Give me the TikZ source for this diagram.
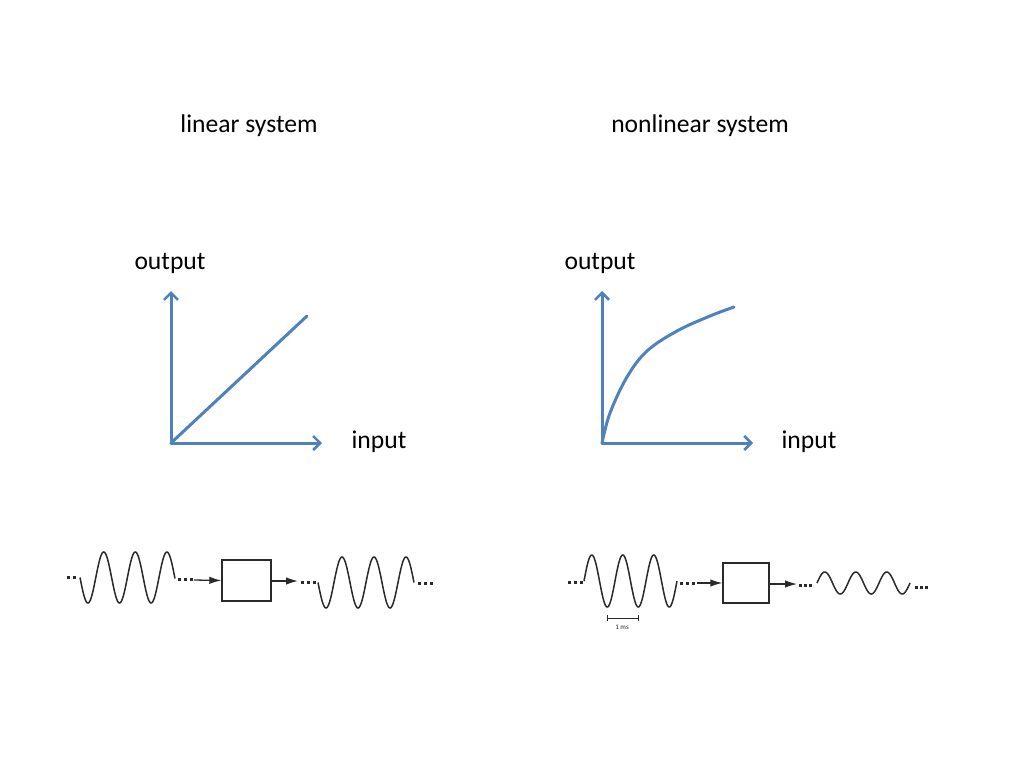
\documentclass[tikz,border=0pt]{standalone}
\usepackage{fontspec}
\setmainfont{Carlito}
\usetikzlibrary{arrows.meta}
\definecolor{axisblue}{HTML}{4F81BD}
\definecolor{ink}{HTML}{2A2A2A}
\begin{document}
\begin{tikzpicture}[x=1pt,y=-1pt,
  axis/.style={draw=axisblue,line width=3pt,line cap=round,-{Straight Barb[length=7pt,width=14pt,line width=2.6pt]}},
  curve/.style={draw=axisblue,line width=3pt,line cap=round},
  lbl/.style={font=\fontsize{25.6}{30}\selectfont,text=black,inner sep=0pt},
  wave/.style={draw=ink,line width=1.5pt},
  sysbox/.style={draw=ink,line width=1.4pt,fill=white,inner sep=0pt},
  flow/.style={draw=ink,line width=1.3pt,-{Latex[length=12pt,width=7.5pt]}},
  dotm/.style={fill=ink,inner sep=0pt,minimum size=3pt,shape=rectangle}
]
\useasboundingbox (0,0) rectangle (1024,768);
\fill[white] (0,0) rectangle (1024,768);

% titles
\node[lbl] (t1) at (249,126) {linear system};
\node[lbl] (t2) at (700,126) {nonlinear system};

% linear graph
\coordinate (o1) at (171,443);
\coordinate (y1) at (171,291);
\coordinate (x1) at (322,443);
\coordinate (d1) at (307,316);
\draw[axis] (o1) -- (y1);
\draw[axis] (o1) -- (x1);
\draw[curve] (o1) -- (d1);
\node[lbl] (out1) at (170,263) {output};
\node[lbl] (in1) at (379,442) {input};

% nonlinear graph
\coordinate (o2) at (602,443);
\coordinate (y2) at (602,291);
\coordinate (x2) at (753,443);
\coordinate (e2) at (734,307);
\draw[axis] (o2) -- (y2);
\draw[axis] (o2) -- (x2);
\draw[curve] plot[smooth,tension=0.6] coordinates {(602,443) (610,413) (627,377) (647,351) (677,331) (710,316) (734,307)};
\node[lbl] (out2) at (600,263) {output};
\node[lbl] (in2) at (809,442) {input};

% ---- linear bottom chain ----
\foreach \x in {68,74} \node[dotm] at (\x,577) {};
\draw[wave] plot[domain=80:175,samples=150,smooth] (\x,{577.5+25.5*sin((\x-80)/31.6*360)});
\foreach \x in {179,185,191} \node[dotm] at (\x,579) {};
\coordinate (a1s) at (194,580);
\node[sysbox,minimum width=49pt,minimum height=41pt] (box1) at (246.5,580.5) {};
\draw[flow] (a1s) -- (box1.west);
\coordinate (a2e) at (298,581);
\draw[flow] (box1.east |- a2e) -- (a2e);
\foreach \x in {302,308,314} \node[dotm] at (\x,582) {};
\draw[wave] plot[domain=318:414,samples=150,smooth] (\x,{582.5+25.5*sin((\x-318)/32*360)});
\foreach \x in {419,425,431} \node[dotm] at (\x,583) {};

% ---- nonlinear bottom chain ----
\foreach \x in {569,575,581} \node[dotm] at (\x,582) {};
\draw[wave] plot[domain=584:677,samples=150,smooth] (\x,{581-26*sin((\x-584)/31*360)});
\foreach \x in {681,687,693} \node[dotm] at (\x,583) {};
\coordinate (b1s) at (697,583);
\node[sysbox,minimum width=46pt,minimum height=40pt] (box2) at (746,583) {};
\draw[flow] (b1s) -- (box2.west);
\coordinate (b2e) at (797,584);
\draw[flow] (box2.east |- b2e) -- (b2e);
\foreach \x in {800,805,810} \node[dotm] at (\x,585) {};
\draw[wave] plot[domain=817:910,samples=150,smooth] (\x,{583-11*sin((\x-817)/31*360)});
\foreach \x in {916,921,926} \node[dotm] at (\x,587) {};

% scale bar
\coordinate (sb1) at (607,618);
\coordinate (sb2) at (638,618);
\draw[ink,line width=1pt] (sb1) -- (sb2);
\draw[ink,line width=0.8pt] ([yshift=-3]sb1) -- ([yshift=3]sb1);
\draw[ink,line width=0.8pt] ([yshift=-3]sb2) -- ([yshift=3]sb2);
\node[font=\fontsize{7}{8}\selectfont,text=ink,inner sep=0pt] (ms) at (622,627) {1 ms};
\end{tikzpicture}
\end{document}
